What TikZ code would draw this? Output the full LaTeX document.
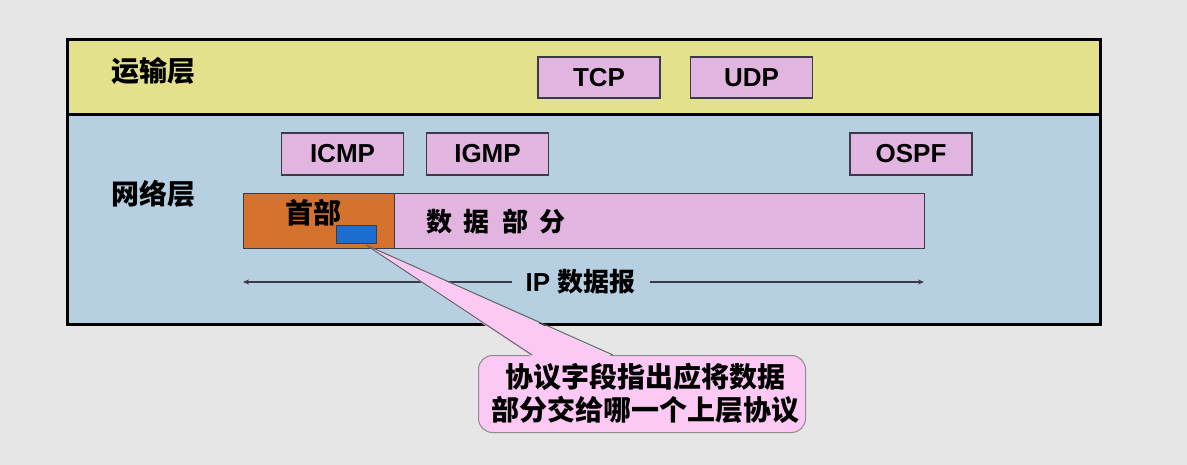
\documentclass[tikz,border=0pt]{standalone}
\usepackage{fontspec}
\setmainfont{Liberation Sans}
\newfontfamily\cjk{Noto Sans CJK SC}
\usetikzlibrary{calc,arrows.meta}
\definecolor{bgc}{HTML}{E6E6E6}
\definecolor{yband}{HTML}{E3E18B}
\definecolor{bband}{HTML}{B6D0E1}
\definecolor{pbox}{HTML}{E2B5E1}
\definecolor{obox}{HTML}{D4722E}
\definecolor{bluer}{HTML}{1C6ED0}
\definecolor{callc}{HTML}{FBC9F4}
\definecolor{bordc}{HTML}{3A3A48}
\tikzset{
  protobox/.style={draw=bordc, line width=1.4pt, fill=pbox, inner sep=0pt,
    minimum width=122pt, minimum height=41pt, font=\bfseries\fontsize{26}{26}\selectfont},
  cjklabel/.style={inner sep=0pt, font=\cjk\bfseries\fontsize{28}{28}\selectfont},
  fieldbox/.style={draw=bordc, line width=1.2pt, inner sep=0pt, anchor=north west, minimum height=55pt},
  dgline/.style={draw=bordc, line width=2.6pt},
}
\begin{document}
\begin{tikzpicture}[x=1pt,y=-1pt]
\fill[bgc] (0,0) rectangle (1187,465);
\useasboundingbox (0,0) rectangle (1187,465);
% layers
\fill[yband] (67,40) rectangle (1100,115);
\fill[bband] (67,115) rectangle (1100,325);
\draw[black, line width=3pt] (67,115) -- (1100,115);
\draw[black, line width=3pt] (67,40) rectangle (1100,325);
\node[cjklabel] (tl) at (153,71) {运输层};
\node[cjklabel] (nl) at (153,194) {网络层};
% protocol boxes
\node[protobox] (tcp) at (599,77.5) {TCP};
\node[protobox] (udp) at (751.5,77.5) {UDP};
\node[protobox, minimum height=42pt] (icmp) at (342.5,154) {ICMP};
\node[protobox, minimum height=42pt] (igmp) at (487.5,154) {IGMP};
\node[protobox, minimum height=42pt] (ospf) at (911,154) {OSPF};
% datagram
\node[fieldbox, fill=obox, minimum width=151pt] (hdr) at (243,193) {};
\node[fieldbox, fill=pbox, minimum width=530pt] (data) at (394,193) {};
\node[cjklabel] (hdrt) at (313,213) {首部};
\node[cjklabel, font=\cjk\bfseries\fontsize{26}{26}\selectfont] (datat) at (496,222) {数\hspace{12pt}据\hspace{12pt}部\hspace{12pt}分};
\node[draw=bordc, line width=0.8pt, fill=bluer, inner sep=0pt, minimum width=40pt, minimum height=18pt, anchor=north west] (proto) at (336,225) {};
% IP datagram arrow
\node[inner sep=0pt, font=\bfseries\fontsize{26}{26}\selectfont] (ip) at (580.5,282) {IP \cjk 数据报};
\coordinate (ipl) at (243,282);
\coordinate (ipr) at (924,282);
\draw[dgline, -{Stealth[length=6pt,width=5pt]}] ($(ip.west)+(-13,0)$) -- (ipl);
\draw[dgline, -{Stealth[length=6pt,width=5pt]}] ($(ip.east)+(14,0)$) -- (ipr);
% callout
\node[draw=black!45, line width=1pt, fill=callc, rounded corners=14pt, anchor=north west,
  minimum width=327pt, minimum height=77pt, inner sep=0pt] (callout) at (478,355) {};
\node[inner sep=0pt, align=center, font=\cjk\bfseries\fontsize{28}{33}\selectfont] (callt) at (645,393)
  {协议字段指出应将数据\\部分交给哪一个上层协议};
\coordinate (tip) at (366,245);
\coordinate (bl) at ($(callout.north west)+(54,0)$);
\coordinate (br) at ($(callout.north west)+(135,0)$);
\fill[callc] (tip) -- ($(bl)+(0,2)$) -- ($(br)+(0,2)$) -- cycle;
\draw[black!60, line width=1pt] (bl) -- (tip) -- (br);
\end{tikzpicture}
\end{document}
